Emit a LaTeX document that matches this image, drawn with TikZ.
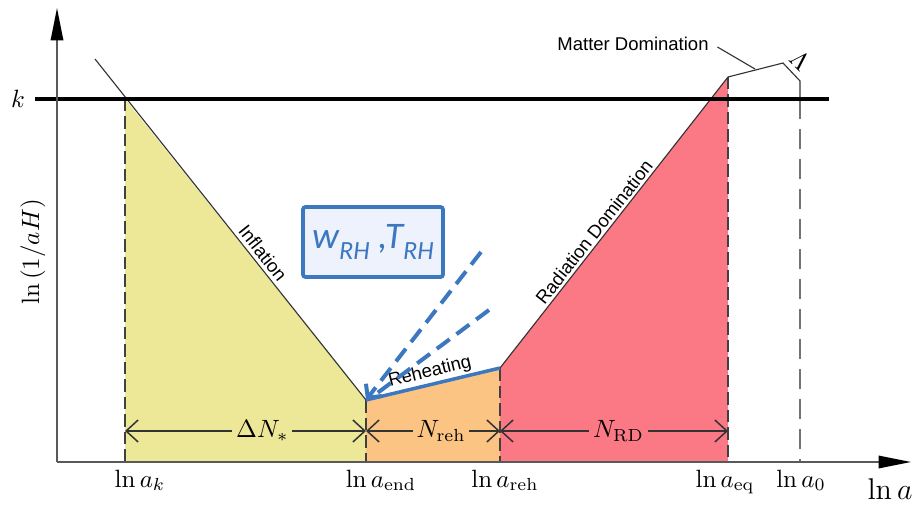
\documentclass[tikz,border=0pt]{standalone}
\usepackage{fontspec}
\setsansfont{Liberation Sans}
\newfontfamily\calibri{Carlito}
\usetikzlibrary{arrows.meta}

\definecolor{inflyellow}{RGB}{237,231,152}
\definecolor{rehorange}{RGB}{251,196,131}
\definecolor{radred}{RGB}{250,121,133}
\definecolor{rhblue}{RGB}{60,120,192}
\definecolor{rhfill}{RGB}{237,242,252}

\tikzset{
  axisline/.style={draw=black!65, line width=0.7pt, -{Triangle[length=13pt,width=5pt,color=black]}},
  curve/.style={draw=black!80, line width=0.45pt},
  guide/.style={draw=black!75, line width=0.5pt, dash pattern=on 5pt off 2pt},
  interval/.style={draw=black!80, line width=0.6pt,
    {Straight Barb[length=4.8pt,width=8.8pt]}-{Straight Barb[length=4.8pt,width=8.8pt]}},
  era/.style={font=\sffamily\fontsize{7.4}{9}\selectfont},
  ticklabel/.style={anchor=base},
  rhdash/.style={draw=rhblue, line width=1.6pt, dash pattern=on 6.4pt off 3.4pt},
}

\begin{document}
\begin{tikzpicture}[x=0.4pt, y=-0.4pt]
        \useasboundingbox (0,0) rectangle (913,505);

        % key points of the curve
        \coordinate (origin) at (57,462);
        \coordinate (xend) at (911,462);
        \coordinate (yend) at (57,8);
        \coordinate (infstart) at (95,59);
        \coordinate (cross) at (125,99);
        \coordinate (aend) at (366,400);
        \coordinate (areh) at (500,368);
        \coordinate (aeq) at (728,77);
        \coordinate (mdend) at (783,63);
        \coordinate (azero) at (800,81);

        % coloured eras
        \fill[inflyellow] (cross) -- (aend) -- (aend |- origin) -- (cross |- origin) -- cycle;
        \fill[rehorange] (aend) -- (areh) -- (areh |- origin) -- (aend |- origin) -- cycle;
        \fill[radred] (areh) -- (aeq) -- (aeq |- origin) -- (areh |- origin) -- cycle;

        \draw[guide] (cross) -- (cross |- origin);
        \draw[guide] (aend) -- (aend |- origin);
        \draw[guide] (areh) -- (areh |- origin);
        \draw[guide] (aeq) -- (aeq |- origin);
        \draw[curve] (aeq) -- (mdend) -- (azero) -- (800,99);
        \draw[draw=black!55, line width=0.5pt, dash pattern=on 8pt off 4pt] (800,99) -- (azero |- origin);

        \draw[curve] (infstart) -- (aend);
        \draw[curve] (areh) -- (aeq);

        % horizon line
        \draw[line width=1.6pt] (35,99) coordinate (kleft) -- (829,99);
        \node (klabel) at (18,99) {$k$};

        \draw[axisline] (origin) -- (yend);
        \draw[axisline] (origin) -- (xend);

        \draw[draw=rhblue, line width=1.4pt] (aend) -- (areh);

        % e-folds
        \draw[interval] (cross |- 0,431) -- node[pos=0.57, fill=inflyellow, inner sep=1.5pt] (dnstar) {$\Delta N_*$} (aend |- 0,431);
        \draw[interval] (aend |- 0,431) -- node[pos=0.56, fill=rehorange, inner sep=1.5pt] (nreh) {$N_{\rm reh}$} (areh |- 0,431);
        \draw[interval] (areh |- 0,431) -- node[pos=0.52, fill=radred, inner sep=1.5pt] (nrd) {$N_{\rm RD}$} (aeq |- 0,431);

        \node[era, rotate=-51.5] (inflation) at (263,253) {Inflation};
        \node[era, rotate=51.8] (radiation) at (594,232) {Radiation Domination};
        \node[era, rotate=13.8] (reheating) at (430,372) {Reheating};
        \node[era] (matter) at (633,44) {Matter Domination};
        \draw[curve] (matter.east) ++(0,3) -- (755,69);
        \node[rotate=-45, inner sep=0pt] (lambda) at (800,61) {$\Lambda$};

        \node[ticklabel] (lnak) at (140,487) {$\ln a_k$};
        \node[ticklabel] (lnaend) at (381,487) {$\ln a_{\rm end}$};
        \node[ticklabel] (lnareh) at (505,487) {$\ln a_{\rm reh}$};
        \node[ticklabel] (lnaeq) at (725,487) {$\ln a_{\rm eq}$};
        \node[ticklabel] (lnazero) at (801,487) {$\ln a_0$};
        \node[ticklabel, font=\large] (lna) at (890,499) {$\ln a$};
        \node[rotate=90] (lnaH) at (33,252) {$\ln\left(1/aH\right)$};

        % reheating parameters
        \node[draw=rhblue, line width=1.5pt, fill=rhfill, rounded corners=1pt,
              minimum width=56pt, minimum height=28pt, text=rhblue] (rhbox) at (373,242)
              {\calibri\itshape\fontsize{15}{18}\selectfont w\raisebox{-4.5pt}{\fontsize{10.5}{12}\selectfont RH} ,T\raisebox{-4.5pt}{\fontsize{10.5}{12}\selectfont RH}};
        \coordinate (dashtop) at (481,252);
        \coordinate (dashlow) at (489,310);
        \draw[rhdash, -{Straight Barb[length=4pt,width=8pt]}] (dashtop) -- (aend);
        \draw[rhdash] (dashlow) -- (372,397);
    \end{tikzpicture}
\end{document}
